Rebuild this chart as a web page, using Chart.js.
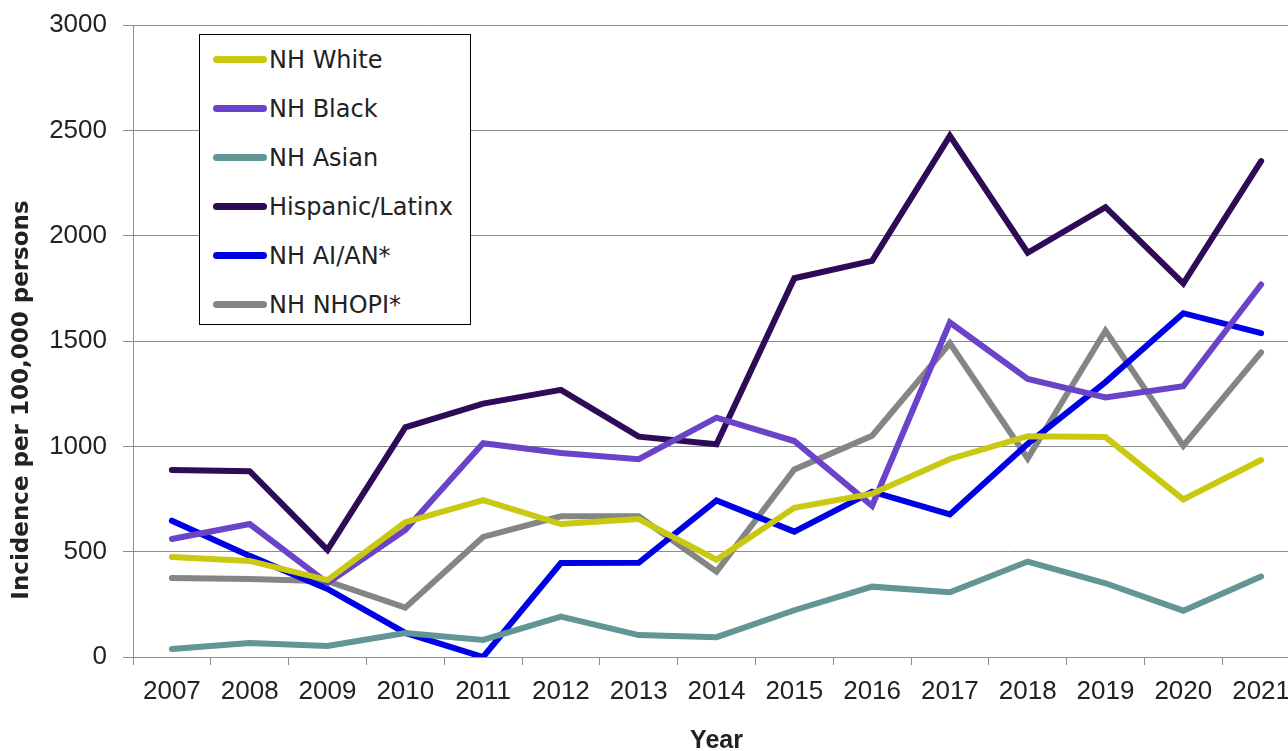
<!doctype html>
<html lang="en">
<head>
<meta charset="utf-8">
<title>Incidence by race/ethnicity</title>
<style>
  html, body { margin: 0; padding: 0; background: #fff; overflow: hidden; }
  body { font-family: "DejaVu Sans", Arial, sans-serif; }
  .wrap { position: relative; width: 1300px; height: 751px; }
  #legend {
    position: absolute; left: 199px; top: 34px; width: 272px; height: 291px;
    border: 1px solid #000; background: #fff; box-sizing: border-box;
    padding-top: 0;
  }
  .item { display: flex; align-items: center; height: 49px; padding-left: 13px; font-size: 24px; color: #222; }
  .swatch { width: 54px; height: 7px; border-radius: 3.5px; margin-right: 2px; }
</style>
</head>
<body>
<div class="wrap">
  <canvas id="chart" width="1300" height="751"></canvas>
  <div id="legend"></div>
</div>
<script src="https://cdn.jsdelivr.net/npm/chart.js@4.4.0/dist/chart.umd.min.js"></script>
<script>
  const years = ['2007','2008','2009','2010','2011','2012','2013','2014','2015','2016','2017','2018','2019','2020','2021'];
  const yTicks = [0, 500, 1000, 1500, 2000, 2500, 3000];

  const nhWhite    = [475, 456, 365, 640, 745, 631, 655, 462, 708, 775, 940, 1048, 1044, 748, 935];
  const nhBlack    = [560, 631, 351, 603, 1015, 968, 939, 1136, 1025, 718, 1588, 1320, 1232, 1285, 1768];
  const nhAsian    = [38, 66, 52, 114, 81, 192, 104, 94, 222, 334, 307, 453, 350, 220, 382];
  const hispanic   = [888, 882, 508, 1090, 1203, 1268, 1046, 1010, 1798, 1880, 2474, 1919, 2135, 1773, 2354];
  const nhAian     = [647, 480, 323, 114, 0, 446, 447, 743, 595, 785, 677, 1012, 1305, 1632, 1537];
  const nhNhopi    = [375, 370, 360, 234, 570, 668, 668, 405, 890, 1050, 1489, 942, 1549, 1003, 1446];

  const series = [
    { label: 'NH White', data: nhWhite, color: '#c9c912' },
    { label: 'NH Black', data: nhBlack, color: '#6b43c8' },
    { label: 'NH Asian', data: nhAsian, color: '#629595' },
    { label: 'Hispanic/Latinx', data: hispanic, color: '#2d0b56' },
    { label: 'NH AI/AN*', data: nhAian, color: '#0000e6' },
    { label: 'NH NHOPI*', data: nhNhopi, color: '#858585' }
  ];

  const legend = document.getElementById('legend');
  series.forEach(s => {
    const row = document.createElement('div');
    row.className = 'item';
    row.innerHTML = '<span class="swatch" style="background:' + s.color + '"></span>' + s.label;
    legend.appendChild(row);
  });

  const font = "'Liberation Sans', Arial, sans-serif";

  // y axis title, centred where the original puts it (a bit below the plot middle)
  const yTitle = {
    id: 'yTitle',
    afterDraw(chart) {
      const ctx = chart.ctx;
      ctx.save();
      ctx.translate(22, 400);
      ctx.rotate(-Math.PI / 2);
      ctx.font = "bold 23px 'DejaVu Sans', Arial, sans-serif";
      ctx.fillStyle = '#222';
      ctx.textAlign = 'center';
      ctx.textBaseline = 'middle';
      ctx.fillText('Incidence per 100,000 persons', 0, 0);
      ctx.restore();
    }
  };

  new Chart(document.getElementById('chart'), {
    type: 'line',
    data: {
      labels: years,
      datasets: series.map(s => ({
        label: s.label,
        data: s.data,
        borderColor: s.color,
        backgroundColor: s.color,
        borderWidth: 6,
        pointRadius: 0,
        tension: 0,
        borderCapStyle: 'round',
        borderJoinStyle: 'miter'
      }))
    },
    plugins: [yTitle],
    options: {
      responsive: false,
      animation: false,
      layout: { padding: { top: 25, right: 0, left: 0, bottom: 0 } },
      plugins: { legend: { display: false }, tooltip: { enabled: false } },
      scales: {
        x: {
          offset: true,
          grid: { drawOnChartArea: false, drawTicks: true, tickLength: 8, color: '#8c8c8c', offset: true },
          border: { display: true, color: '#8c8c8c' },
          ticks: { color: '#222', font: { family: font, size: 26 }, padding: 11, maxRotation: 0, autoSkip: false },
          title: { display: true, text: 'Year', color: '#222', font: { family: font, size: 25, weight: 'bold' }, padding: { top: 0, bottom: -5 } },
          afterFit: a => { a.height = 94; a.paddingLeft = 0; a.paddingRight = 0; }
        },
        y: {
          min: 0, max: 3000,
          afterBuildTicks: a => { a.ticks = yTicks.map(v => ({ value: v })); },
          grid: { color: '#8c8c8c', tickLength: 10, drawTicks: true },
          border: { display: true, color: '#8c8c8c' },
          ticks: { color: '#222', font: { family: font, size: 26 }, padding: 16, callback: v => String(v) },
          afterFit: a => { a.width = 133; a.paddingTop = 0; a.paddingBottom = 0; }
        }
      }
    }
  });
</script>
</body>
</html>
